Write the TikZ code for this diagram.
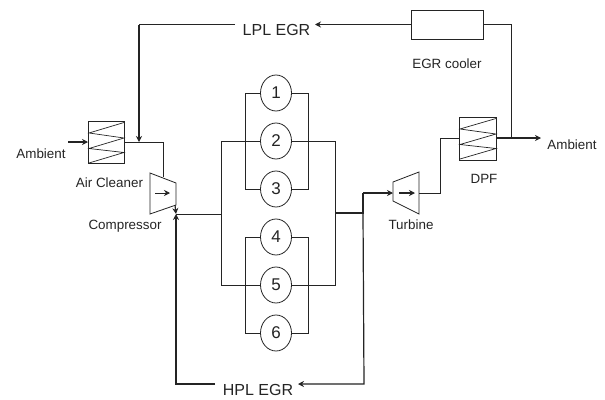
\documentclass[tikz,border=0pt]{standalone}
\usepackage{fontspec}
\setmainfont{Liberation Sans}
\usetikzlibrary{shapes.geometric,arrows.meta}
\definecolor{ink}{gray}{0.14}
\tikzset{
  x=1pt,y=-1pt,
  every node/.style={text=ink,inner sep=0pt,outer sep=0pt},
  lbl/.style={font=\fontsize{13.4}{15}\selectfont},
  biglbl/.style={font=\fontsize{16}{18}\selectfont},
  cyl/.style={draw=ink,line width=.8pt,ellipse,minimum width=31pt,minimum height=36pt,font=\fontsize{17}{18}\selectfont,fill=white},
  boxn/.style={draw=ink,line width=.8pt,rectangle,fill=white},
  wire/.style={draw=ink,line width=.8pt},
  flow/.style={draw=ink,line width=1.2pt},
  tip/.style={-{Stealth[length=6pt,width=6pt]}},
  zig/.style={draw=ink,line width=.7pt},
  mach/.style={draw=ink,line width=.8pt,fill=white,line join=miter},
}
\begin{document}
\begin{tikzpicture}
\useasboundingbox (0,0) rectangle (605,399);
\coordinate (jc) at (176,214);
\coordinate (il) at (245,93);
\coordinate (ir) at (308,93);
\coordinate (il3) at (245,189);
\coordinate (ir3) at (308,189);
\coordinate (il4) at (245,237);
\coordinate (ir4) at (308,237);
\coordinate (il6) at (245,333);
\coordinate (ir6) at (308,333);
\coordinate (ol) at (221,141);
\coordinate (or) at (335,141);
\coordinate (ol5) at (221,285);
\coordinate (or5) at (335,285);
\coordinate (ojl) at (221,214);
\coordinate (ojr) at (335,213);
\coordinate (ex) at (363,213);
\coordinate (ext) at (363,193);
\coordinate (hr) at (364,384);
\coordinate (hl) at (176,384);
\coordinate (ll) at (139,24.5);
\coordinate (lj) at (139,142);
\coordinate (cout) at (163,142);
\coordinate (cin) at (163,177);
\coordinate (cr) at (511,24.5);
\coordinate (dj) at (511,138);
\coordinate (amb) at (541,138);
\coordinate (tr) at (440,193);
\coordinate (tu) at (440,138);
\coordinate (ain) at (68,142);

% cylinders
\node[cyl] (c1) at (276,93) {1};
\node[cyl] (c2) at (276,141) {2};
\node[cyl] (c3) at (276,189) {3};
\node[cyl] (c4) at (276,237) {4};
\node[cyl] (c5) at (276,285) {5};
\node[cyl] (c6) at (276,333) {6};

\draw[wire] (c1.west) -- (il) -- (il3) -- (c3.west);
\draw[wire] (c1.east) -- (ir) -- (ir3) -- (c3.east);
\draw[wire] (c4.west) -- (il4) -- (il6) -- (c6.west);
\draw[wire] (c4.east) -- (ir4) -- (ir6) -- (c6.east);
\draw[wire] (c2.west) -- (ol) -- (ol5) -- (c5.west);
\draw[wire] (c2.east) -- (or) -- (or5) -- (c5.east);

% air cleaner
\node[boxn,minimum width=36pt,minimum height=42pt] (ac) at (106,142) {};
\draw[zig] (ac.north east)++(0,1.5) -- ++(-35,10.5) -- ++(35,5) -- ++(-35,10.5) -- ++(35,4) -- ++(-35,10.5);
% DPF
\node[boxn,minimum width=37pt,minimum height=43pt] (dpf) at (477.5,138.5) {};
\draw[zig] (dpf.north east)++(0,1.5) -- ++(-36,10.5) -- ++(36,5) -- ++(-36,10.5) -- ++(36,4) -- ++(-36,10.5);
% EGR cooler
\node[boxn,minimum width=72pt,minimum height=29pt] (cool) at (447,24.5) {};

% compressor and turbine
\draw[mach] (150,173) coordinate (k1) -- (176,183) -- (176,205) coordinate (k3) -- (150,214) -- cycle;
\coordinate (ka) at (155,193);
\coordinate (kb) at (170,193);
\draw[wire,tip] (ka) -- (kb);
\draw[mach] (393,182) -- (419,172) -- (419,214) -- (393,201) -- cycle;
\coordinate (ti) at (393,193);
\coordinate (to) at (419,193);
\coordinate (ta) at (399,193);
\coordinate (tb) at (415,193);
\draw[flow,tip] (ta) -- (tb);

% labels
\node[lbl] (tamb1) at (41,154) {Ambient};
\node[lbl] (tac) at (109.5,183) {Air Cleaner};
\node[lbl] (tcomp) at (125,226) {Compressor};
\node[lbl] (tturb) at (411,224.5) {Turbine};
\node[lbl] (tdpf) at (484,179) {DPF};
\node[lbl] (tcool) at (447,64) {EGR cooler};
\node[lbl] (tamb2) at (572,145) {Ambient};
\node[biglbl] (tlpl) at (276.5,30) {LPL EGR};
\node[biglbl] (thpl) at (258,390) {HPL EGR};

% connectors
\draw[flow,tip] (ain) -- (ain -| ac.west);
\draw[wire] (lj -| ac.east) -- (cout) -- (cin);
\coordinate (lle) at (235,24.5);
\coordinate (lre) at (315,24.5);
\draw[flow] (lle) -- (ll);
\draw[flow,tip] (ll) -- (lj);
\draw[flow,tip] (cool.west) -- (lre);
\draw[wire] (cool.east) -- (cr) -- (dj);
\draw[flow,tip] (dpf.east |- dj) -- (amb);
\draw[wire] (to) -- (tr) -- (tu) -- (tu -| dpf.west);
\draw[wire] (jc) -- (ojl);
\draw[flow] (ojr) -- (ex) -- (ext);
\draw[flow,tip] (ext) -- (ti);
\coordinate (hle) at (215,384);
\coordinate (hre) at (298,384);
\draw[flow,tip] (ex) -- (hr) -- (hre);
\draw[flow,tip] (hle) -- (hl) -- (jc);
\draw[flow,tip] (k3) ++(-1,0) -- (jc);
\end{tikzpicture}
\end{document}
